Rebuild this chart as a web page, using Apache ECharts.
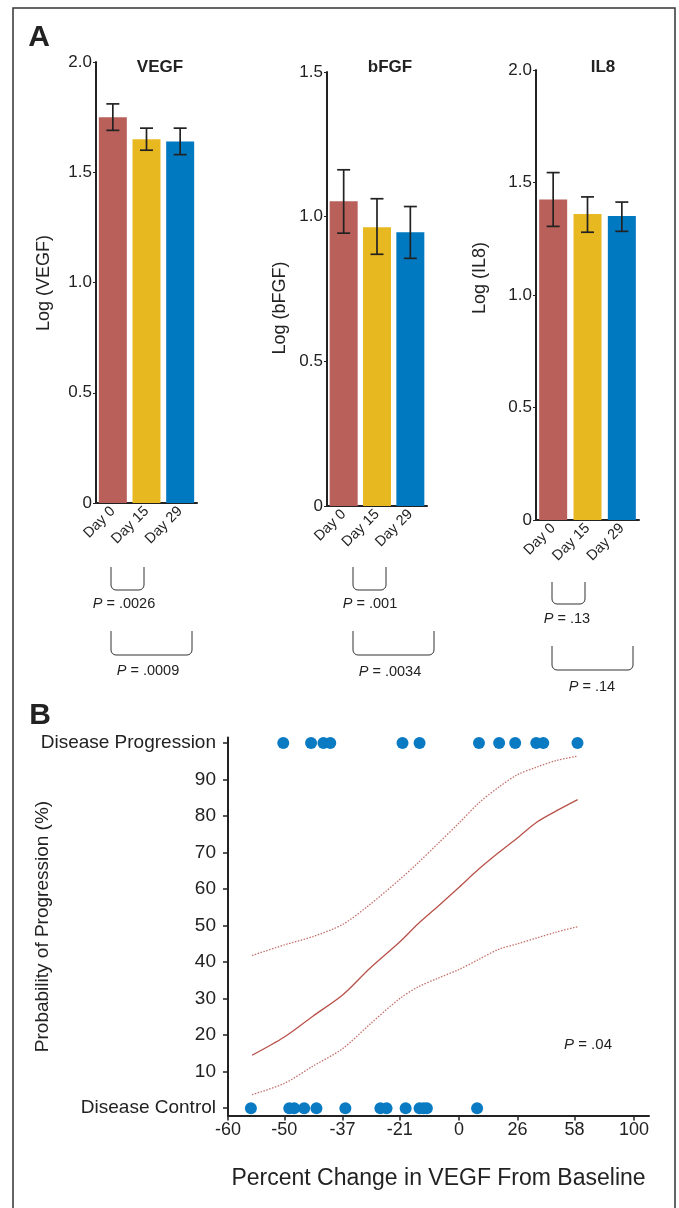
<!DOCTYPE html>
<html><head><meta charset="utf-8">
<script src="https://cdn.jsdelivr.net/npm/echarts@6/dist/echarts.min.js"></script>
<style>html,body{margin:0;padding:0;background:#fff}#c{width:679px;height:1208px}</style>
</head><body><div id="c"></div>
<script>
// ---------- Panel A data ----------
const categories = ['Day 0', 'Day 15', 'Day 29'];
const vegfMean = [1.75, 1.65, 1.64];
const vegfLow  = [1.69, 1.60, 1.58];
const vegfHigh = [1.81, 1.70, 1.70];
const bfgfMean = [1.053, 0.963, 0.946];
const bfgfLow  = [0.943, 0.870, 0.856];
const bfgfHigh = [1.162, 1.062, 1.035];
const il8Mean  = [1.425, 1.360, 1.351];
const il8Low   = [1.305, 1.279, 1.283];
const il8High  = [1.544, 1.436, 1.413];
const panelTitles = ['VEGF', 'bFGF', 'IL8'];
const axisNames = ['Log (VEGF)', 'Log (bFGF)', 'Log (IL8)'];
const yMax = [2.0, 1.5, 2.0];
const pSmall = ['.0026', '.001', '.13'];
const pLarge = ['.0009', '.0034', '.14'];

// ---------- Panel B data ----------
// percent change in VEGF from baseline
const progressionPct = [-50.2, -44.4, -41.6, -40.0, -20.1, -14.5, 8.2, 17.2, 24.9, 35.8, 39.6, 59.9];
const controlPct = [-56.2, -49.0, -48.0, -45.9, -43.2, -36.3, -26.8, -25.0, -19.1, -14.5, -13.1, -12.0, 7.4];
const curvePct   = [-56, -50, -44, -37, -30, -21, -15, -8, 0, 8, 17, 26, 36, 47, 60];
const fitProb    = [14.5, 19.5, 25.2, 31.0, 38.1, 45.5, 50.5, 55.3, 60.5, 65.4, 70.0, 74.0, 78.3, 81.4, 84.5];
const upperProb  = [41.8, 44.7, 47.0, 50.3, 55.6, 62.6, 67.2, 72.5, 78.1, 83.5, 87.9, 91.3, 93.4, 95.2, 96.4];
const lowerProb  = [3.7, 6.8, 11.5, 16.3, 22.8, 30.0, 33.2, 35.6, 38.0, 40.7, 43.5, 45.0, 46.6, 48.2, 49.7];
const xTickLabels = ['-60', '-50', '-37', '-21', '0', '26', '58', '100'];
const yTickValues = [0, 10, 20, 30, 40, 50, 60, 70, 80, 90, 100];

// ---------- styles ----------
const barColors = ['#b9605a', '#e8b820', '#0079c1'];
const dotColor = '#0a7bc2';
const lineColor = '#b8524a';
const FONT = 'Liberation Sans, Arial, sans-serif';
const pos = p => Math.log10(1 + p / 100);

const grids = [
  {left: 96, top: 62, width: 101, height: 441},
  {left: 327, top: 72, width: 100, height: 434},
  {left: 536, top: 70, width: 103, height: 450},
  {left: 228, top: 737.5, width: 421, height: 378}
];
const means = [vegfMean, bfgfMean, il8Mean];
const lows = [vegfLow, bfgfLow, il8Low];
const highs = [vegfHigh, bfgfHigh, il8High];

const xAxes = [], yAxes = [], series = [];
for (let i = 0; i < 3; i++) {
  xAxes.push({
    type: 'category', gridIndex: i, data: categories,
    axisLine: {lineStyle: {color: '#222', width: 2}},
    axisTick: {show: false},
    axisLabel: {rotate: 45, interval: 0, margin: 6, color: '#222', fontFamily: FONT, fontSize: 14.5}
  });
  yAxes.push({
    type: 'value', gridIndex: i, min: 0, max: yMax[i], interval: 0.5,
    axisLine: {show: true, lineStyle: {color: '#222', width: 2}},
    axisTick: {show: true, length: 3, lineStyle: {color: '#222'}},
    splitLine: {show: false},
    axisLabel: {color: '#222', fontFamily: FONT, fontSize: 17, margin: 4,
      formatter: v => v === 0 ? '0' : v.toFixed(1)}
  });
  series.push({
    type: 'bar', xAxisIndex: i, yAxisIndex: i, barWidth: 28,
    data: means[i].map((v, j) => ({value: v, itemStyle: {color: barColors[j]}}))
  });
  series.push({
    type: 'custom', xAxisIndex: i, yAxisIndex: i, z: 10,
    data: categories.map((c, j) => [j, lows[i][j], highs[i][j]]),
    renderItem: (params, api) => {
      const lo = api.coord([api.value(0), api.value(1)]);
      const hi = api.coord([api.value(0), api.value(2)]);
      const w = 6.5, st = {stroke: '#222', lineWidth: 1.7};
      return {type: 'group', children: [
        {type: 'line', shape: {x1: hi[0], y1: hi[1], x2: lo[0], y2: lo[1]}, style: st},
        {type: 'line', shape: {x1: hi[0] - w, y1: hi[1], x2: hi[0] + w, y2: hi[1]}, style: st},
        {type: 'line', shape: {x1: lo[0] - w, y1: lo[1], x2: lo[0] + w, y2: lo[1]}, style: st}
      ]};
    }
  });
}

// Panel B axes
const xTickPos = xTickLabels.map(l => pos(+l));
xAxes.push({
  type: 'value', gridIndex: 3, min: pos(-60), max: 0.327,
  name: 'Percent Change in VEGF From Baseline', nameLocation: 'middle', nameGap: 52, nameMoveOverlap: false,
  nameTextStyle: {fontFamily: FONT, fontSize: 23, color: '#222'},
  axisLine: {onZero: false, lineStyle: {color: '#222', width: 2}},
  axisTick: {show: true, length: 5, customValues: xTickPos, lineStyle: {color: '#222', width: 1.5}},
  axisLabel: {customValues: xTickPos, color: '#222', fontFamily: FONT, fontSize: 18, margin: 6,
    formatter: v => { let best = 0; xTickPos.forEach((t, k) => { if (Math.abs(t - v) < Math.abs(xTickPos[best] - v)) best = k; }); return xTickLabels[best]; }},
  splitLine: {show: false}
});
yAxes.push({
  type: 'value', gridIndex: 3, min: -2, max: 101.5,
  name: 'Probability of Progression (%)', nameLocation: 'middle', nameGap: 176, nameMoveOverlap: false,
  nameTextStyle: {fontFamily: FONT, fontSize: 19, color: '#222'},
  axisLine: {onZero: false, lineStyle: {color: '#222', width: 2}},
  axisTick: {show: true, length: 5, customValues: yTickValues, lineStyle: {color: '#222', width: 1.5}},
  axisLabel: {customValues: yTickValues, color: '#222', fontFamily: FONT, fontSize: 19, margin: 12,
    formatter: v => v === 0 ? 'Disease Control' : (v === 100 ? 'Disease Progression' : String(v))},
  splitLine: {show: false}
});

const curve = arr => curvePct.map((p, k) => [pos(p), arr[k]]);
series.push(
  {type: 'line', xAxisIndex: 3, yAxisIndex: 3, data: curve(fitProb), smooth: 0.3, showSymbol: false,
   lineStyle: {color: lineColor, width: 1.3}},
  {type: 'line', xAxisIndex: 3, yAxisIndex: 3, data: curve(upperProb), smooth: 0.3, showSymbol: false,
   lineStyle: {color: '#c4716b', width: 1.3, type: [1.5, 1.5]}},
  {type: 'line', xAxisIndex: 3, yAxisIndex: 3, data: curve(lowerProb), smooth: 0.3, showSymbol: false,
   lineStyle: {color: '#c4716b', width: 1.3, type: [1.5, 1.5]}},
  {type: 'scatter', xAxisIndex: 3, yAxisIndex: 3, symbolSize: 12, itemStyle: {color: dotColor, opacity: 1},
   data: progressionPct.map(p => [pos(p), 100])},
  {type: 'scatter', xAxisIndex: 3, yAxisIndex: 3, symbolSize: 12, itemStyle: {color: dotColor, opacity: 1},
   data: controlPct.map(p => [pos(p), 0])}
);

// ---------- annotations ----------
function bracket(x1, x2, yTop, yBot) {
  const r = 5, pts = [[x1, yTop]];
  for (let k = 0; k <= 4; k++) { const a = Math.PI - k * Math.PI / 8; pts.push([x1 + r + r * Math.cos(a), yBot - r + r * Math.sin(a)]); }
  for (let k = 4; k >= 0; k--) { const a = k * Math.PI / 8; pts.push([x2 - r + r * Math.cos(a), yBot - r + r * Math.sin(a)]); }
  pts.push([x2, yTop]);
  return {type: 'polyline', shape: {points: pts}, style: {stroke: '#333', lineWidth: 1, fill: null}};
}
function pText(x, y, val) {
  return {type: 'text', x: x, y: y, style: {
    text: '{i|P} = ' + val, rich: {i: {fontStyle: 'italic', fontFamily: FONT, fontSize: 14.5, fill: '#222'}},
    fontFamily: FONT, fontSize: 14.5, fill: '#222', align: 'center', verticalAlign: 'middle'}};
}
const bx = [[111, 144, 192], [353, 386, 434], [552, 585, 633]];
const by = [[567, 590, 604, 631, 655, 671], [567, 590, 604, 631, 655, 672], [582, 604, 619, 646, 670, 687]];
const pLabelX = [[124, 148], [370, 390], [567, 592]];
const graphics = [
  {type: 'rect', shape: {x: 13, y: 8, width: 662, height: 1220}, style: {stroke: '#333', lineWidth: 1.5, fill: null}},
  {type: 'text', x: 39, y: 38, style: {text: 'A', fontFamily: FONT, fontWeight: 'bold', fontSize: 30, fill: '#222', align: 'center', verticalAlign: 'middle'}},
  {type: 'text', x: 40, y: 716, style: {text: 'B', fontFamily: FONT, fontWeight: 'bold', fontSize: 30, fill: '#222', align: 'center', verticalAlign: 'middle'}},
  {type: 'text', x: 588, y: 1045, style: {text: '{i|P} = .04', rich: {i: {fontStyle: 'italic', fontFamily: FONT, fontSize: 15, fill: '#222'}},
    fontFamily: FONT, fontSize: 15, fill: '#222', align: 'center', verticalAlign: 'middle'}}
];
const titlePos = [[160, 67], [390, 67], [603, 67]];
const namePos = [[44, 283], [280, 308], [480, 278]];
for (let i = 0; i < 3; i++) {
  graphics.push({type: 'text', x: titlePos[i][0], y: titlePos[i][1], style: {text: panelTitles[i], fontFamily: FONT, fontWeight: 'bold', fontSize: 17, fill: '#222', align: 'center', verticalAlign: 'middle'}});
  graphics.push({type: 'text', x: namePos[i][0], y: namePos[i][1], rotation: Math.PI / 2, style: {text: axisNames[i], fontFamily: FONT, fontSize: 18, fill: '#222', align: 'center', verticalAlign: 'middle'}});
  graphics.push(bracket(bx[i][0], bx[i][1], by[i][0], by[i][1]));
  graphics.push(bracket(bx[i][0], bx[i][2], by[i][3], by[i][4]));
  graphics.push(pText(pLabelX[i][0], by[i][2], pSmall[i]));
  graphics.push(pText(pLabelX[i][1], by[i][5], pLarge[i]));
}

const chart = echarts.init(document.getElementById('c'), null, {renderer: 'canvas'});
chart.setOption({
  animation: false,
  backgroundColor: '#fff',
  grid: grids,
  xAxis: xAxes,
  yAxis: yAxes,
  series: series,
  graphic: graphics
});
</script></body></html>
